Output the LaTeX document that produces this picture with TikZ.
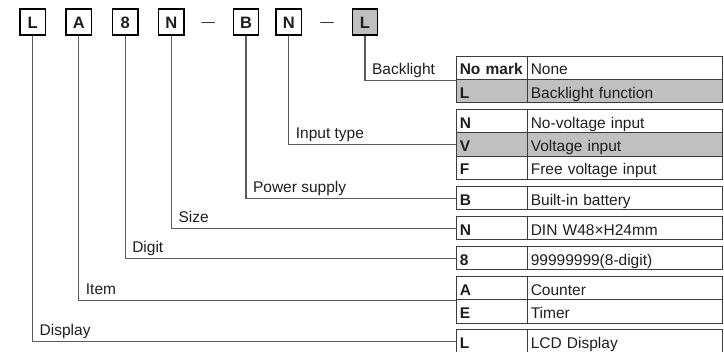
\documentclass[tikz,border=0pt]{standalone}
\usepackage{fontspec}
\setmainfont{Liberation Sans}
\definecolor{ln}{HTML}{5A5A5A}
\definecolor{bd}{HTML}{3C3C3C}
\definecolor{gf}{HTML}{C0C0C0}
\definecolor{tx}{HTML}{1E1E1E}
\begin{document}
\begin{tikzpicture}[x=1pt,y=-1pt,
  font=\fontsize{15.5}{18}\selectfont, text=tx,
  codebox/.style={draw=black, line width=1.4pt, minimum width=25.5pt, minimum height=26pt,
    inner sep=0pt, text height=14pt, text depth=0pt, font=\fontsize{16.5}{19}\selectfont\bfseries},
  keycell/.style={draw=bd, line width=1.2pt, anchor=north west, minimum height=23.3pt,
    text width=64pt, inner xsep=3.5pt, inner ysep=0pt, align=left,
    text height=14pt, text depth=0pt, font=\fontsize{15.5}{18}\selectfont\bfseries},
  valcell/.style={keycell, text width=188.3pt, font=\fontsize{15.5}{18}\selectfont},
  hl/.style={fill=gf},
  conn/.style={draw=ln, line width=1.2pt},
  lbl/.style={anchor=base west, xshift=6.5pt, yshift=5.7pt, inner sep=0pt},
  dashmark/.style={anchor=base, inner sep=0pt, font=\fontsize{13.5}{16}\selectfont}]
\useasboundingbox (0,0) rectangle (724,352);

% code boxes
\node[codebox] (b1) at (32.6,22) {L};
\node[codebox] (b2) at (78.8,22) {A};
\node[codebox] (b3) at (125.2,22) {8};
\node[codebox] (b4) at (171.4,22) {N};
\node[dashmark] (d1) at (208.3,26.3) {—};
\node[codebox] (b5) at (246,22) {B};
\node[codebox] (b6) at (288.8,22) {N};
\node[dashmark] (d2) at (327,26.3) {—};
\node[codebox, fill=gf] (b7) at (365,22) {L};

% tables
\def\kx{455.7}\def\vx{526.7}
% T1 backlight
\node[keycell] (t1a) at (\kx,55.7) {No mark};
\node[valcell] (t1av) at (\vx,55.7) {None};
\node[keycell,hl] (t1b) at (\kx,79) {L};
\node[valcell,hl] (t1bv) at (\vx,79) {Backlight function};
% T2 input
\node[keycell] (t2a) at (\kx,109) {N};
\node[valcell] (t2av) at (\vx,109) {No-voltage input};
\node[keycell,hl] (t2b) at (\kx,132.3) {V};
\node[valcell,hl] (t2bv) at (\vx,132.3) {Voltage input};
\node[keycell] (t2c) at (\kx,155.7) {F};
\node[valcell] (t2cv) at (\vx,155.7) {Free voltage input};
% T3 power
\node[keycell] (t3) at (\kx,186) {B};
\node[valcell] (t3v) at (\vx,186) {Built-in battery};
% T4 size
\node[keycell] (t4) at (\kx,216) {N};
\node[valcell] (t4v) at (\vx,216) {DIN W48×H24mm};
% T5 digit
\node[keycell] (t5) at (\kx,246) {8};
\node[valcell] (t5v) at (\vx,246) {99999999(8-digit)};
% T6 item
\node[keycell] (t6a) at (\kx,276) {A};
\node[valcell] (t6av) at (\vx,276) {Counter};
\node[keycell] (t6b) at (\kx,299.3) {E};
\node[valcell] (t6bv) at (\vx,299.3) {Timer};
% T7 display
\node[keycell] (t7) at (\kx,329.3) {L};
\node[valcell] (t7v) at (\vx,329.3) {LCD Display};

% connectors
\draw[conn] (b7.south) |- node[lbl]{Backlight} (t1a.south west);
\draw[conn] (b6.south) |- node[lbl]{Input type} (t2b.west);
\draw[conn] (b5.south) |- node[lbl]{Power supply} (t3.west);
\draw[conn] (b4.south) |- node[lbl]{Size} (t4.west);
\draw[conn] (b3.south) |- node[lbl]{Digit} (t5.west);
\draw[conn] (b2.south) |- node[lbl]{Item} (t6a.south west);
\draw[conn] (b1.south) |- node[lbl]{Display} (t7.west);
\end{tikzpicture}
\end{document}
